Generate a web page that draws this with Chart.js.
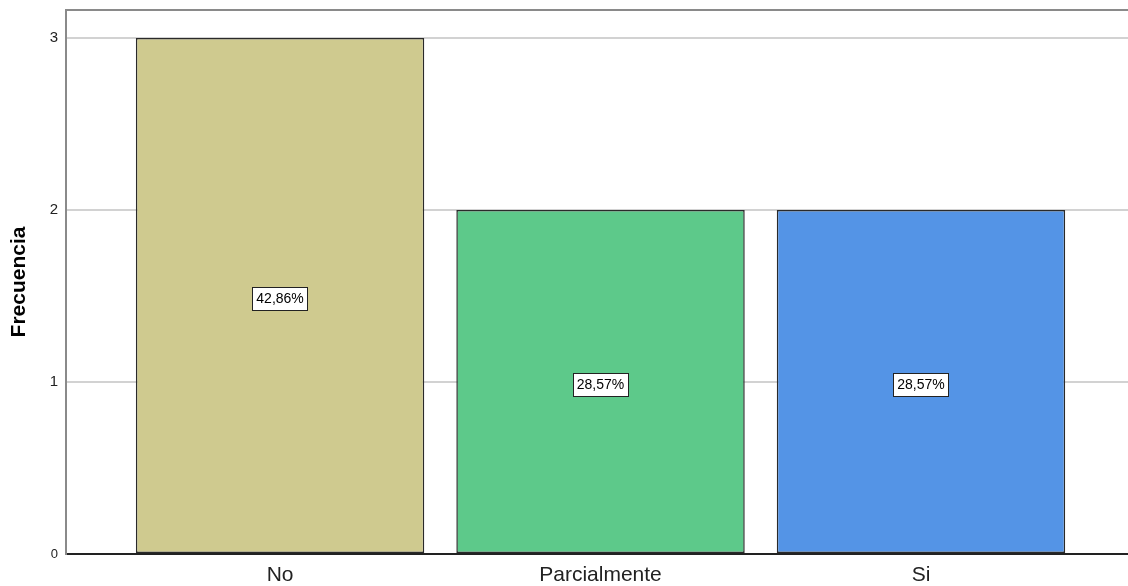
<!DOCTYPE html>
<html>
<head>
<meta charset="utf-8">
<script src="https://cdn.jsdelivr.net/npm/chart.js@4.4.0/dist/chart.umd.min.js"></script>
<style>
  html, body { margin: 0; padding: 0; background: #ffffff; }
  #wrap { width: 1128px; height: 586px; position: relative; }
</style>
</head>
<body>
<div id="wrap"><canvas id="c" width="1128" height="586"></canvas></div>
<script>
const categories = ['No', 'Parcialmente', 'Si'];
const frequencies = [3, 2, 2];
const barColors = ['#CFCA8F', '#5DC98A', '#5494E6'];
const yTicks = [0, 1, 2, 3];
const yTitle = 'Frecuencia';

const total = frequencies.reduce((a, b) => a + b, 0);
const pctLabels = frequencies.map(v => (v / total * 100).toFixed(2).replace('.', ',') + '%');

const labelPlugin = {
  id: 'pctLabels',
  afterDatasetsDraw(chart) {
    const ctx = chart.ctx;
    const meta = chart.getDatasetMeta(0);
    const yScale = chart.scales.y;
    ctx.save();
    ctx.font = '14px "Liberation Sans", Arial, sans-serif';
    ctx.textAlign = 'center';
    ctx.textBaseline = 'middle';
    meta.data.forEach((bar, i) => {
      const txt = pctLabels[i];
      const cx = bar.x;
      const cy = yScale.getPixelForValue(frequencies[i] / 2) + 2;
      const w = ctx.measureText(txt).width + 8;
      const h = 23;
      ctx.fillStyle = '#ffffff';
      ctx.fillRect(Math.round(cx - w / 2) + 0.5, Math.round(cy - h / 2) + 0.5, Math.round(w), h);
      ctx.strokeStyle = '#222222';
      ctx.lineWidth = 1;
      ctx.strokeRect(Math.round(cx - w / 2) + 0.5, Math.round(cy - h / 2) + 0.5, Math.round(w), h);
      ctx.fillStyle = '#000000';
      ctx.fillText(txt, cx, cy + 1);
    });
    ctx.restore();
  },
  afterDraw(chart) {
    const ctx = chart.ctx;
    const a = chart.chartArea;
    ctx.save();
    ctx.strokeStyle = '#8a8a8a';
    ctx.lineWidth = 2;
    ctx.beginPath();
    ctx.moveTo(a.left, a.top);
    ctx.lineTo(a.right, a.top);
    ctx.stroke();
    ctx.restore();
  }
};

new Chart(document.getElementById('c'), {
  type: 'bar',
  data: {
    datasets: [{
      data: categories.map((c, i) => ({ x: i, y: frequencies[i] })),
      backgroundColor: barColors,
      borderColor: '#2a2a2a',
      borderWidth: 1.5,
      borderSkipped: false,
      categoryPercentage: 1,
      barPercentage: 0.9
    }]
  },
  options: {
    responsive: false,
    animation: false,
    layout: { padding: { top: 10, right: 0, left: 0, bottom: 0 } },
    plugins: { legend: { display: false }, tooltip: { enabled: false } },
    scales: {
      x: {
        type: 'linear',
        offset: false,
        min: -0.668,
        max: 2.646,
        afterBuildTicks(scale) {
          scale.ticks = categories.map((c, i) => ({ value: i }));
        },
        afterFit(scale) { scale.height = 32; scale.paddingLeft = 0; scale.paddingRight = 0; },
        grid: { display: false, drawTicks: false },
        border: { display: true, color: '#222222', width: 2 },
        ticks: {
          autoSkip: false,
          maxRotation: 0,
          padding: 9,
          color: '#222222',
          font: { family: '"Liberation Sans", Arial, sans-serif', size: 21 },
          callback: (v) => categories[v] ?? ''
        }
      },
      y: {
        min: 0,
        max: 3.163,
        afterBuildTicks(scale) {
          scale.ticks = yTicks.map(v => ({ value: v }));
        },
        afterFit(scale) { scale.width = 66; scale.paddingTop = 0; scale.paddingBottom = 0; },
        grid: { color: '#d2d2d2', lineWidth: 2, drawTicks: false },
        border: { display: true, color: '#8a8a8a', width: 2 },
        ticks: {
          padding: 8,
          color: '#222222',
          font: (ctx) => ({ family: '"Liberation Sans", Arial, sans-serif', size: ctx.tick && ctx.tick.value === 0 ? 13 : 15 })
        },
        title: {
          display: true,
          text: yTitle,
          color: '#000000',
          font: { family: '"Liberation Sans", Arial, sans-serif', size: 21, weight: 'bold' },
          padding: { top: 7, bottom: 0 }
        }
      }
    }
  },
  plugins: [labelPlugin]
});
</script>
</body>
</html>
